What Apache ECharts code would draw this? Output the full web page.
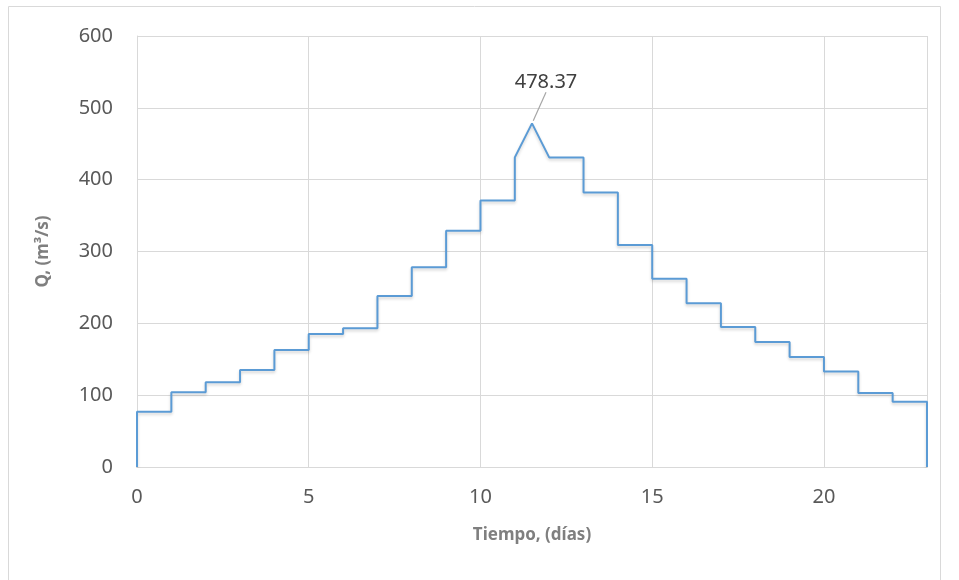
<!DOCTYPE html>
<html>
<head>
<meta charset="utf-8">
<script src="https://cdn.jsdelivr.net/npm/echarts@6/dist/echarts.min.js"></script>
<style>
  html, body { margin: 0; padding: 0; background: #fff; }
  #chart { width: 959px; height: 580px; }
</style>
</head>
<body>
<div id="chart"></div>
<script>
// caudal diario (m3/s) por intervalo de un día
const risingDays = [0, 1, 2, 3, 4, 5, 6, 7, 8, 9, 10];
const risingFlows = [77, 104, 118, 135, 163, 185, 193, 238, 278, 329, 371];
const peakDay = 11.5;
const peakFlow = 478.37;
const fallingDays = [12, 13, 14, 15, 16, 17, 18, 19, 20, 21, 22];
const fallingFlows = [431, 382, 309, 262, 228, 195, 174, 153, 133, 103, 91];
const endDay = 23;
const xTicks = [0, 5, 10, 15, 20];
const yTicks = [0, 100, 200, 300, 400, 500, 600];

// hidrograma escalonado
const points = [[0, 0]];
risingDays.forEach((d, i) => {
  points.push([d, risingFlows[i]], [d + 1, risingFlows[i]]);
});
points.push([risingDays[risingDays.length - 1] + 1, fallingFlows[0]]);
points.push({
  value: [peakDay, peakFlow],
  symbolSize: 6,
  label: { show: true, formatter: '{@[1]}' },
  labelLine: { show: true, lineStyle: { color: '#a6a6a6', width: 1.2 } }
});
fallingDays.forEach((d, i) => {
  points.push([d, fallingFlows[i]], [d + 1, fallingFlows[i]]);
});
points.push([endDay, 0]);

const font = 'Noto Sans, sans-serif';
const chart = echarts.init(document.querySelector('#chart'));
const option = {
  animation: false,
  graphic: [{
    type: 'rect',
    shape: { x: 8.5, y: 6.5, width: 932, height: 580 },
    style: { fill: 'none', stroke: '#d9d9d9', lineWidth: 1 },
    silent: true
  }],
  grid: { left: 137, right: 32, top: 36, bottom: 113 },
  xAxis: {
    type: 'value',
    min: 0,
    max: endDay,
    interval: 5,
    name: 'Tiempo, (días)',
    nameLocation: 'middle',
    nameGap: 60,
    nameTextStyle: { fontFamily: font, fontWeight: 'bold', fontSize: 17, color: '#7f7f7f' },
    axisLine: { lineStyle: { color: '#d9d9d9', width: 1 } },
    axisTick: { show: false },
    axisLabel: {
      fontFamily: font, fontSize: 20, color: '#595959', margin: 20,
      formatter: v => (xTicks.includes(v) ? String(v) : '')
    },
    splitLine: { lineStyle: { color: '#d9d9d9', width: 1 } }
  },
  yAxis: {
    type: 'value',
    min: yTicks[0],
    max: yTicks[yTicks.length - 1],
    interval: 100,
    name: 'Q, (m³/s)',
    nameLocation: 'middle',
    nameGap: 85,
    nameTextStyle: { fontFamily: font, fontWeight: 'bold', fontSize: 17, color: '#7f7f7f' },
    axisLine: { show: true, lineStyle: { color: '#d9d9d9', width: 1 } },
    axisTick: { show: false },
    axisLabel: { fontFamily: font, fontSize: 20, color: '#595959', margin: 24 },
    splitLine: { lineStyle: { color: '#d9d9d9', width: 1 } }
  },
  series: [{
    type: 'line',
    data: points,
    symbol: 'circle',
    symbolSize: 1,
    showSymbol: true,
    lineStyle: {
      color: '#5b9bd5', width: 2,
      shadowColor: 'rgba(0,0,0,0.18)', shadowBlur: 3, shadowOffsetY: 2
    },
    itemStyle: { color: 'rgba(0,0,0,0)' },
    label: {
      show: false,
      position: 'top',
      padding: [0, 0, 10, 0],
      fontFamily: font, fontSize: 20, color: '#404040'
    },
    labelLayout: { dx: 14, dy: -13 }
  }]
};
chart.setOption(option);
</script>
</body>
</html>
